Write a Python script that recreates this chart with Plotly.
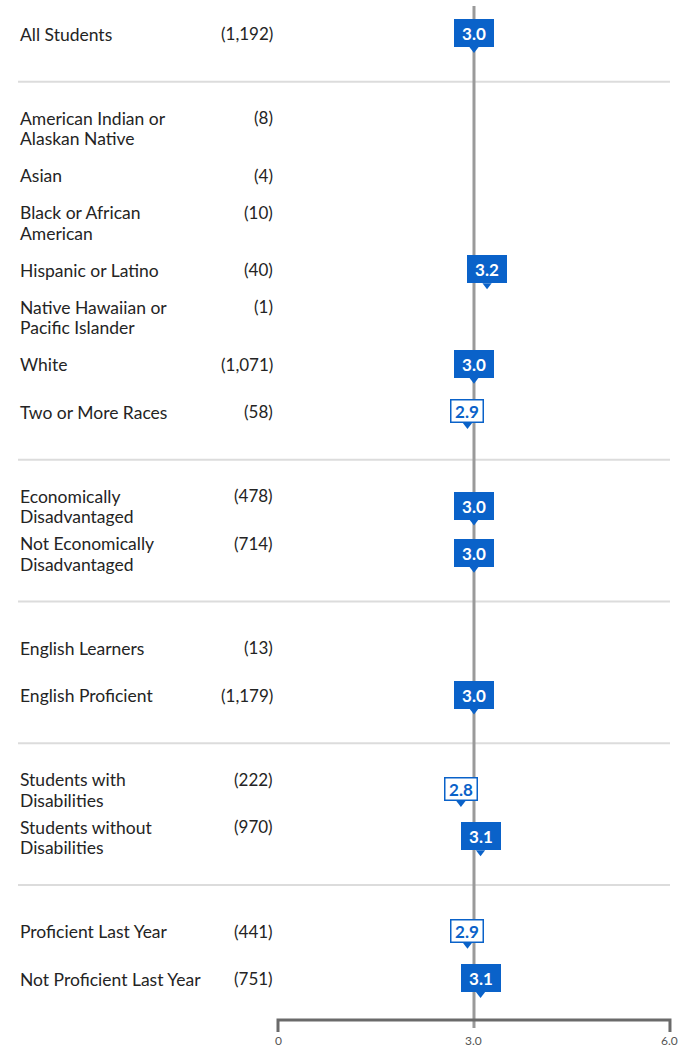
import plotly.graph_objects as go

# ---------------- data ----------------
labels = ["All Students",
          "American Indian or<br>Alaskan Native", "Asian", "Black or African<br>American",
          "Hispanic or Latino", "Native Hawaiian or<br>Pacific Islander", "White",
          "Two or More Races",
          "Economically<br>Disadvantaged", "Not Economically<br>Disadvantaged",
          "English Learners", "English Proficient",
          "Students with<br>Disabilities", "Students without<br>Disabilities",
          "Proficient Last Year", "Not Proficient Last Year"]
counts = ["(1,192)", "(8)", "(4)", "(10)", "(40)", "(1)", "(1,071)", "(58)",
          "(478)", "(714)", "(13)", "(1,179)", "(222)", "(970)", "(441)", "(751)"]
scores = [3.0, None, None, None, 3.2, None, 3.0, 2.9,
          3.0, 3.0, None, 3.0, 2.8, 3.1, 2.9, 3.1]
group_ids = [0, 1, 1, 1, 1, 1, 1, 1, 2, 2, 3, 3, 4, 4, 5, 5]
tick_vals = [0, 3.0, 6.0]
tick_text = ["0", "3.0", "6.0"]

# ---------------- layout constants ----------------
W, H = 679, 1047
X0_PX, PX_PER_UNIT = 278, 65.33
TOP, STEP = 33, 47.25
BLUE = "#0a62c9"
TEXT = "#242424"
FONT = "Lato"
LINE_H = 20.5

xmin = -X0_PX / PX_PER_UNIT
xmax = xmin + W / PX_PER_UNIT

def row_y(i):
    return TOP + STEP * (i + group_ids[i])

ref_value = scores[0]

fig = go.Figure()
annotations = []
shapes = []

# separators between groups
for g in sorted(set(group_ids))[1:]:
    first = group_ids.index(g)
    ys = row_y(first) - STEP + 1.5
    shapes.append(dict(type="line", xref="paper", yref="y", x0=18 / W, x1=670 / W,
                       y0=ys, y1=ys, line=dict(color="#dcdcdc", width=2), layer="below"))

# vertical reference line at overall value
shapes.append(dict(type="line", xref="x", yref="y", x0=ref_value, x1=ref_value,
                   y0=6, y1=1028, line=dict(color="#9a9a9a", width=3), layer="below"))

# bottom axis bracket
axis_y = row_y(len(labels) - 1) + 42
fig.add_trace(go.Scatter(
    x=[tick_vals[0], tick_vals[0], tick_vals[-1], tick_vals[-1]],
    y=[axis_y + 12, axis_y, axis_y, axis_y + 12],
    mode="lines", line=dict(color="#6a6a6a", width=3), hoverinfo="skip", showlegend=False))
for tv, tt in zip(tick_vals, tick_text):
    annotations.append(dict(x=tv, y=axis_y + 20, xref="x", yref="y", text=tt, showarrow=False,
                            xanchor="center", yanchor="middle",
                            font=dict(family=FONT, size=12, color="#555555")))

# labels and counts
for i, (lab, cnt) in enumerate(zip(labels, counts)):
    yc = row_y(i) + 1
    lines = lab.split("<br>")
    y_first = yc - (len(lines) - 1) * LINE_H / 2
    for k, ln in enumerate(lines):
        annotations.append(dict(x=18 / W, y=y_first + k * LINE_H, xref="paper", yref="y",
                                text=ln, showarrow=False, xanchor="left", yanchor="middle",
                                font=dict(family=FONT, size=17.5, color=TEXT)))
    annotations.append(dict(x=275 / W, y=y_first - 0.5, xref="paper", yref="y",
                            text=cnt, showarrow=False, xanchor="right", yanchor="middle",
                            font=dict(family=FONT, size=17, color=TEXT)))

# value markers
ptr_x, ptr_y = [], []
for i, v in enumerate(scores):
    if v is None:
        continue
    yc = row_y(i)
    filled = v >= ref_value
    if filled:
        annotations.append(dict(x=v, y=yc, xref="x", yref="y", text=f"{v:.1f}", showarrow=False,
                                xanchor="center", yanchor="middle", width=36, height=24,
                                bgcolor=BLUE, bordercolor=BLUE, borderwidth=1, borderpad=1,
                                font=dict(family=FONT, size=17, color="white", weight="bold")))
        ptr_x.append(v); ptr_y.append(yc + 16)
    else:
        annotations.append(dict(x=v, y=yc, xref="x", yref="y", text=f"{v:.1f}", showarrow=False,
                                xanchor="center", yanchor="middle", width=29, height=19,
                                bgcolor="white", bordercolor=BLUE, borderwidth=1.5, borderpad=1,
                                font=dict(family=FONT, size=17, color=BLUE, weight="bold")))
        ptr_x.append(v); ptr_y.append(yc + 14)

fig.add_trace(go.Scatter(x=ptr_x, y=ptr_y, mode="markers",
                         marker=dict(symbol="triangle-down", size=8, color=BLUE, line=dict(width=0)),
                         hoverinfo="skip", showlegend=False))

fig.update_layout(
    width=W, height=H,
    margin=dict(l=0, r=0, t=0, b=0),
    paper_bgcolor="white", plot_bgcolor="white",
    xaxis=dict(range=[xmin, xmax], visible=False, fixedrange=True),
    yaxis=dict(range=[H, 0], visible=False, fixedrange=True),
    annotations=annotations, shapes=shapes,
    showlegend=False,
)

fig.write_html("out.html", config={"displayModeBar": False},
               post_script="document.body.style.margin='0';document.body.style.overflow='hidden';")
